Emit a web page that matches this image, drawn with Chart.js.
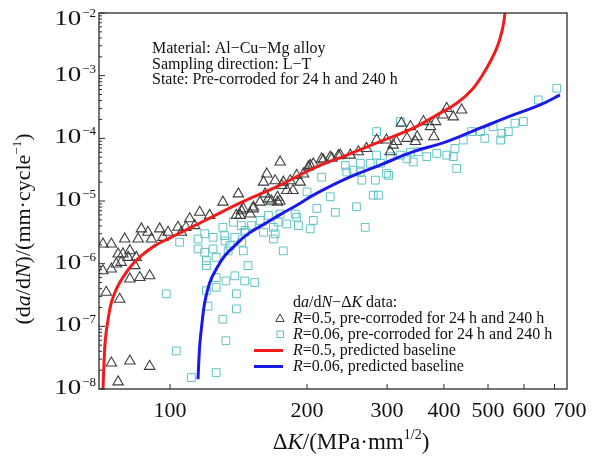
<!DOCTYPE html>
<html>
<head>
<meta charset="utf-8">
<script src="https://cdn.jsdelivr.net/npm/chart.js@4.4.0/dist/chart.umd.min.js"></script>
<style>
  body { margin: 0; background: #fff; }
  canvas { display: block; }
</style>
</head>
<body>
<canvas id="canvas" width="598" height="459"></canvas>
<script>
// R=0.5 test points (triangles): delta K and da/dN
const triDK = [71.2, 74.3, 79.5, 76.9, 78.8, 81.6, 80.9, 76.2, 78.1, 83.7, 84.3, 86.5, 85.1, 91.0, 94.9, 96.5, 99.0, 104.1, 89.4,
  74.3, 71.2, 81.6, 85.8, 90.2, 72.4, 77.5, 74.3, 81.6, 90.2, 76.9,
  110.5, 116.2, 122.2, 130.7, 143.5, 152.3, 139.9, 167.1, 174.3, 157.6, 113.3, 105.9, 108.4,
  174.6, 163.2, 170.2, 160.5, 176.1, 183.7, 189.9, 196.5, 201.5, 206.5, 215.4, 225, 234.4, 193.2, 180.6, 172.4, 164.5, 172.4,
  152.5, 144.9, 141.3, 142.6, 150, 161.8, 186.3, 177.4, 203.3, 217.2, 236.7, 249, 259.4, 270.3, 284.5, 299, 309.2,
  322.5, 337.6, 331.7, 349.3, 346.3, 360.5, 373.6, 383.5, 380.2, 398.4, 405.6, 419.4, 437.5, 314.5, 304.8, 226.9]
const triRate = [2.06e-6, 2.06e-6, 2.48e-6, 1.43e-6, 1.43e-6, 1.61e-6, 1.26e-6, 9.9e-7, 1.05e-6, 9.3e-7, 1.26e-6, 3.59e-6, 2.48e-6, 2.48e-6, 3.59e-6, 2.63e-6, 3.17e-6, 3.81e-6, 3.17e-6,
  8.2e-7, 7.7e-7, 5.7e-7, 6.0e-7, 6.4e-7, 3.5e-7, 2.7e-7, 2.6e-8, 2.8e-8, 2.3e-8, 1.3e-8,
  5.2e-6, 6.6e-6, 5.9e-6, 9.6e-6, 7.0e-6, 7.5e-6, 5.9e-6, 1.0e-5, 1.0e-5, 9.6e-6, 4.05e-6, 3.17e-6, 3.8e-6,
  4.2e-5, 2.7e-5, 2.1e-5, 2.0e-5, 1.77e-5, 2.1e-5, 2.56e-5, 2.7e-5, 3.5e-5, 3.9e-5, 4.7e-5, 5.0e-5, 5.3e-5, 2.0e-5, 1.47e-5, 1.15e-5, 1.08e-5, 9.6e-6,
  8.0e-6, 7.5e-6, 1.3e-5, 5.9e-6, 6.2e-6, 1.3e-5, 1.47e-5, 2.0e-5, 3.7e-5, 4.5e-5, 5.4e-5, 5.4e-5, 6.1e-5, 6.9e-5, 9.4e-5, 9.4e-5, 7.8e-5,
  1.74e-4, 1.54e-4, 1.0e-4, 1.06e-4, 8.9e-5, 1.85e-4, 1.54e-4, 1.85e-4, 1.06e-4, 2.36e-4, 3.0e-4, 2.2e-4, 2.84e-4, 8.9e-5, 6.1e-5, 4.8e-5]

// R=0.06 test points (squares)
const sqDK = [708, 645, 598, 573, 554, 536, 533, 513, 492, 481, 460, 441, 423, 405.6, 385.7, 366.6, 351.3, 342.5, 419.4,
  320.9, 284.5, 284.5, 304.8, 320.9, 290, 275.6, 262, 299, 262, 244.6, 215.4, 282.8, 263.9, 279.7, 287.1, 225, 242.8,
  200, 210.2, 256.9, 206.5, 189.9, 268.6, 230.8, 203.3, 191.5, 188.4, 174.6, 180.6, 168.7, 170.2, 164.5, 157.8, 151, 160.5,
  146.2, 137.8, 132.1, 135.5, 144.9, 177.4, 143.7, 105.0, 115.2, 119.2, 124.3, 131.9, 138.8, 145.9, 115.2, 119.2, 124.3,
  120.2, 120.2, 126.3, 134.2, 143.5, 172.7, 168.7, 148.4, 138.8, 132.7, 145.9, 153.5, 126.3, 126.3, 139.9, 139.9, 130.7,
  132.7, 98.1, 120.2, 121.2, 103.2, 111.4, 126.3, 165.7, 130.7, 426.7, 252.7, 302.3, 337.6, 331.7]
const sqRate = [6.3e-4, 4.1e-4, 1.85e-4, 1.74e-4, 1.28e-4, 1.2e-4, 9.4e-5, 1.54e-4, 1.0e-4, 1.28e-4, 1.28e-4, 9.4e-5, 6.9e-5, 5.4e-5, 5.75e-5, 5.1e-5, 6.1e-5, 4.2e-5, 5.1e-5,
  1.85e-4, 1.28e-4, 5.4e-5, 5.1e-5, 5.4e-5, 4.0e-5, 4.0e-5, 4.0e-5, 2.75e-5, 2.9e-5, 2.9e-5, 2.4e-5, 2.15e-5, 2.15e-5, 1.24e-5, 1.24e-5, 1.17e-5, 3.7e-5,
  1.4e-5, 7.6e-6, 8.1e-6, 4.9e-6, 5.5e-6, 3.8e-6, 6.6e-6, 3.6e-6, 4.05e-6, 6.2e-6, 6.2e-6, 4.3e-6, 3.8e-6, 3.0e-6, 5.9e-6, 4.9e-6, 4.05e-6, 3.17e-6,
  3.4e-6, 4.6e-6, 2.3e-6, 1.94e-6, 1.6e-6, 1.6e-6, 2.2e-6, 2.2e-6, 2.48e-6, 3.0e-6, 2.63e-6, 2.8e-6, 2.63e-6, 3.17e-6, 1.72e-6, 1.52e-6, 1.72e-6,
  1.12e-6, 9.3e-7, 1.26e-6, 1.6e-6, 4.05e-6, 4.6e-6, 2.48e-6, 9.3e-7, 6.4e-7, 5.3e-7, 5.3e-7, 5.0e-7, 6.0e-7, 4.2e-7, 3.3e-7, 1.9e-7, 1.3e-7,
  5.9e-8, 3.3e-7, 3.7e-7, 2.1e-7, 4.05e-8, 1.52e-8, 1.83e-8, 1.0e-5, 3.8e-6, 3.3e-5, 3.1e-5, 2.56e-5, 6.0e-5, 4.7e-5]

// predicted baselines
const redDK = [71.2, 71.6, 72.1, 73.1, 74.3, 76.2, 78.8, 82.2, 86.5, 92.6, 99.0, 107.7, 117.2, 127.5, 141.1, 153.5, 174.5,
  206.5, 244.6, 289.4, 342.5, 385.7, 426.7, 464.1, 496.6, 522.4, 538.5, 546]
const redRate = [9.3e-9, 2.64e-8, 6.24e-8, 1.3e-7, 2.4e-7, 3.94e-7, 6.04e-7, 9.29e-7, 1.34e-6, 1.94e-6, 2.48e-6, 3.37e-6, 4.58e-6, 6.24e-6, 9.02e-6, 1.18e-5, 1.79e-5,
  3.31e-5, 5.41e-5, 8.85e-5, 1.45e-4, 2.36e-4, 3.63e-4, 6.31e-4, 1.32e-3, 2.75e-3, 5.75e-3, 1.12e-2]
const blueDK = [115.2, 116.2, 117.6, 119.2, 122.3, 126.4, 131.9, 138.8, 148.4, 161.5, 175.7, 189.5, 206.5, 244.6, 289.4, 342.5, 405.6, 480.1, 568.3, 650.6, 719.6]
const blueRate = [1.43e-8, 4.88e-8, 1.15e-7, 2.4e-7, 5.02e-7, 8.22e-7, 1.34e-6, 1.94e-6, 2.99e-6, 4.32e-6, 6.24e-6, 8.47e-6, 1.24e-5, 2.29e-5, 3.74e-5, 6.12e-5, 8.85e-5, 1.45e-4, 2.36e-4, 3.41e-4, 4.93e-4]

// axis ticks
const xTicks = [100, 200, 300, 400, 500, 600, 700]
const yExps = [-2, -3, -4, -5, -6, -7, -8]
const minorSteps = [2, 3, 4, 5, 6, 7, 8, 9]

const noteLines = ['Material: Al\u2212Cu\u2212Mg alloy', 'Sampling direction: L\u2212T', 'State: Pre-corroded for 24 h and 240 h']

const SERIF = '"Liberation Serif", "Times New Roman", serif'
const TRI_COLOR = '#3e3e3e'
const SQ_COLOR = '#5fc4c4'
const RED = '#f01c1c'
const BLUE = '#1a1ae8'

const toPoints = (xs, ys) => xs.map((v, i) => ({ x: v, y: ys[i] }))

// draw text pieces side by side: [text, italic, superscript]
function rich(ctx, x, y, parts, size, align) {
  const fonts = parts.map(p => (p[1] ? 'italic ' : '') + Math.round(p[2] ? size * 0.62 : size) + 'px ' + SERIF)
  const widths = parts.map((p, i) => { ctx.font = fonts[i]; return ctx.measureText(p[0]).width })
  const total = widths.reduce((s, w) => s + w, 0)
  let cx = align === 'center' ? x - total / 2 : align === 'right' ? x - total : x
  ctx.textAlign = 'left'
  ctx.textBaseline = 'alphabetic'
  parts.forEach((p, i) => {
    ctx.font = fonts[i]
    ctx.fillText(p[0], cx, p[2] ? y - size * 0.42 : y)
    cx += widths[i]
  })
}

const decorations = {
  id: 'decorations',
  afterDraw(chart) {
    const { ctx, chartArea: a } = chart
    const xs = chart.scales.x
    const ys = chart.scales.y
    ctx.save()
    ctx.fillStyle = '#111'

    // frame round the plot
    ctx.strokeStyle = '#2b2b2b'
    ctx.lineWidth = 1.3
    ctx.strokeRect(a.left, a.top, a.right - a.left, a.bottom - a.top)

    // y ticks, inward: major at each decade, minor in between
    ctx.lineWidth = 1
    ctx.beginPath()
    yExps.forEach(e => {
      const py = ys.getPixelForValue(Math.pow(10, e))
      ctx.moveTo(a.left, py); ctx.lineTo(a.left + 6, py)
      if (e < -2) {
        minorSteps.forEach(m => {
          const p = ys.getPixelForValue(m * Math.pow(10, e))
          ctx.moveTo(a.left, p); ctx.lineTo(a.left + 3, p)
        })
      }
    })
    // x ticks, inward
    xTicks.forEach(t => {
      const px = xs.getPixelForValue(t)
      ctx.moveTo(px, a.bottom); ctx.lineTo(px, a.bottom - 5)
    })
    ctx.stroke()

    // x tick labels, pushed right where they would collide
    ctx.font = '22px ' + SERIF
    ctx.textAlign = 'center'
    ctx.textBaseline = 'alphabetic'
    let lastRight = -Infinity
    xTicks.forEach(t => {
      const label = String(t)
      const w = ctx.measureText(label).width
      let cx = xs.getPixelForValue(t)
      if (cx - w / 2 < lastRight + 8) cx = lastRight + 8 + w / 2
      ctx.fillText(label, cx, 417)
      lastRight = cx + w / 2
    })

    // y tick labels 10^n
    yExps.forEach(e => {
      const py = Math.max(ys.getPixelForValue(Math.pow(10, e)), a.top + 7)
      ctx.font = '13px ' + SERIF
      ctx.textAlign = 'right'
      const sup = '\u2212' + (-e)
      const supW = ctx.measureText(sup).width
      ctx.fillText(sup, 96, py - 3)
      ctx.save()
      ctx.translate(96 - supW - 1, py + 5)
      ctx.scale(1.35, 1)
      ctx.font = '20px ' + SERIF
      ctx.fillText('10', 0, 0)
      ctx.restore()
    })

    // axis titles
    rich(ctx, 351, 449, [['\u0394'], ['K', true], ['/(MPa\u00b7mm'], ['1/2', false, true], [')']], 23, 'center')
    ctx.save()
    ctx.translate(30, 229)
    ctx.rotate(-Math.PI / 2)
    rich(ctx, 0, 0, [['(d'], ['a', true], ['/d'], ['N', true], [')/(mm\u00b7cycle'], ['\u22121', false, true], [')']], 21.5, 'center')
    ctx.restore()

    // note in the upper left
    noteLines.forEach((s, i) => rich(ctx, 152, 53 + i * 15.5, [[s]], 16, 'left'))

    // legend
    const lx = 293
    rich(ctx, lx, 307, [['d'], ['a', true], ['/d'], ['N', true], ['\u2212\u0394'], ['K', true], [' data:']], 16, 'left')
    rich(ctx, lx, 323, [['R', true], ['=0.5, pre-corroded for 24 h and 240 h']], 16, 'left')
    rich(ctx, lx, 339, [['R', true], ['=0.06, pre-corroded for 24 h and 240 h']], 16, 'left')
    rich(ctx, lx, 355, [['R', true], ['=0.5, predicted baseline']], 16, 'left')
    rich(ctx, lx, 371, [['R', true], ['=0.06, predicted baseline']], 16, 'left')
    ctx.lineWidth = 1
    ctx.strokeStyle = TRI_COLOR
    ctx.beginPath(); ctx.moveTo(280, 314); ctx.lineTo(284.2, 321.5); ctx.lineTo(275.8, 321.5); ctx.closePath(); ctx.stroke()
    ctx.strokeStyle = SQ_COLOR
    ctx.strokeRect(277, 331, 6.5, 6.5)
    ctx.lineWidth = 3
    ctx.strokeStyle = RED
    ctx.beginPath(); ctx.moveTo(254, 350.5); ctx.lineTo(283, 350.5); ctx.stroke()
    ctx.strokeStyle = BLUE
    ctx.beginPath(); ctx.moveTo(254, 366.5); ctx.lineTo(283, 366.5); ctx.stroke()
    ctx.restore()
  }
}

const target = document.querySelector('#canvas')
const crackChart = new Chart(target, {
  type: 'scatter',
  data: {
    datasets: [
      {
        label: 'R=0.5, predicted baseline',
        data: toPoints(redDK, redRate),
        showLine: true,
        borderColor: RED,
        borderWidth: 3,
        pointRadius: 0,
        tension: 0.4,
        order: 0
      },
      {
        label: 'R=0.06, predicted baseline',
        data: toPoints(blueDK, blueRate),
        showLine: true,
        borderColor: BLUE,
        borderWidth: 3,
        pointRadius: 0,
        tension: 0.4,
        order: 1
      },
      {
        label: 'R=0.5, pre-corroded for 24 h and 240 h',
        data: toPoints(triDK, triRate),
        pointStyle: 'triangle',
        pointRadius: 6,
        borderWidth: 1.1,
        borderColor: TRI_COLOR,
        backgroundColor: 'rgba(0,0,0,0)',
        order: 2
      },
      {
        label: 'R=0.06, pre-corroded for 24 h and 240 h',
        data: toPoints(sqDK, sqRate),
        pointStyle: 'rect',
        pointRadius: 5.5,
        borderWidth: 1,
        borderColor: SQ_COLOR,
        backgroundColor: 'rgba(0,0,0,0)',
        order: 3
      }
    ]
  },
  options: {
    responsive: false,
    animation: false,
    layout: { padding: { left: 99, right: 31, top: 13, bottom: 70 } },
    scales: {
      x: { type: 'logarithmic', min: 69.8, max: 745.7, display: false },
      y: { type: 'logarithmic', min: 1e-8, max: 1e-2, display: false }
    },
    plugins: {
      legend: { display: false },
      tooltip: { enabled: false }
    }
  },
  plugins: [decorations]
})
</script>
</body>
</html>
